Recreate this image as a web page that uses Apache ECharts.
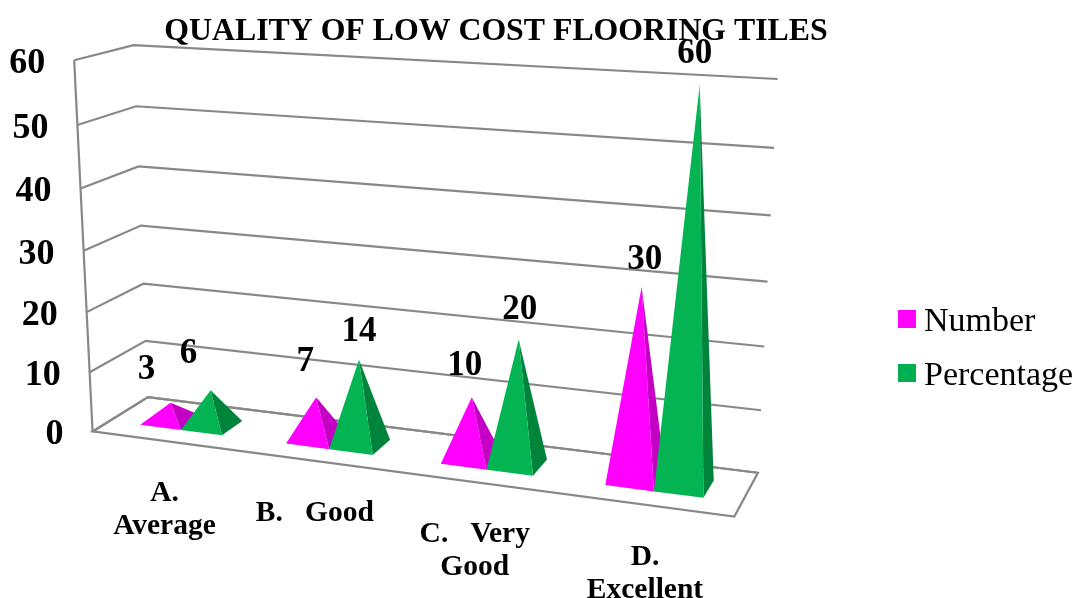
<!DOCTYPE html>
<html>
<head>
<meta charset="utf-8">
<style>
  html, body { margin: 0; padding: 0; background: #fff; }
  #main { width: 1076px; height: 598px; }
</style>
</head>
<body>
<div id="main"></div>
<script src="https://cdn.jsdelivr.net/npm/echarts@6/dist/echarts.min.js"></script>
<script>
const categories = ["A.\nAverage", "B.   Good", "C.   Very\nGood", "D.\nExcellent"];
const numberValues = [3, 7, 10, 30];
const percentValues = [6, 14, 20, 60];
const yTicks = [0, 10, 20, 30, 40, 50, 60];

// 标签微调 (dx, dy)
const numberLabelShift = [[-24, -33], [-11, -35], [-7, -31], [3, -27]];
const percentLabelShift = [[-22, -36], [0, -28], [1, -30], [-5, -31]];

const FONT = '"Liberation Serif", serif';
const FLAT_W = 1000;
const FLAT_H = 500;

// 透视标定: [u, d, t] -> 画面像素 (u 横向, d 进深, t 高度比例)
const anchors = [
  [0, 0, 0, 92.3, 431.7], [1, 0, 0, 734.3, 516.7], [1, 1, 0, 757.7, 472.7], [0, 1, 0, 147.3, 397.3],
  [0, 0, 1, 73.7, 60.7], [0, 1, 1, 133.3, 45], [1, 1, 1, 777.7, 79],
  [0, 0, 0.5, 84, 250], [0, 1, 0.5, 141.7, 225.7], [1, 1, 0.5, 767.3, 281.7],
  [0, 1, 1 / 6, 146, 340.7], [1, 1, 1 / 6, 761.3, 410], [0, 0, 1 / 6, 90, 372.3],
];

// 最小二乘解投影矩阵
const solveProjection = () => {
  const rows = [];
  const rhs = [];
  anchors.forEach(([u, d, t, px, py]) => {
    const x = px / 1000;
    const y = py / 1000;
    rows.push([1, u, d, t, 0, 0, 0, 0, -x * u, -x * d, -x * t]);
    rhs.push(x);
    rows.push([0, 0, 0, 0, 1, u, d, t, -y * u, -y * d, -y * t]);
    rhs.push(y);
  });
  const n = 11;
  const m = [];
  for (let i = 0; i < n; i++) {
    m.push(new Array(n + 1).fill(0));
    rows.forEach((r, k) => {
      for (let j = 0; j < n; j++) m[i][j] += r[i] * r[j];
      m[i][n] += r[i] * rhs[k];
    });
  }
  for (let i = 0; i < n; i++) {
    let best = i;
    for (let k = i + 1; k < n; k++) if (Math.abs(m[k][i]) > Math.abs(m[best][i])) best = k;
    [m[i], m[best]] = [m[best], m[i]];
    for (let k = 0; k < n; k++) {
      if (k === i) continue;
      const f = m[k][i] / m[i][i];
      for (let j = i; j <= n; j++) m[k][j] -= f * m[i][j];
    }
  }
  return m.map((r, i) => r[n] / r[i]);
};
const h = solveProjection();
const project = (u, d, t) => {
  const w = 1 + h[8] * u + h[9] * d + h[10] * t;
  return [
    (1000 * (h[0] + h[1] * u + h[2] * d + h[3] * t)) / w,
    (1000 * (h[4] + h[5] * u + h[6] * d + h[7] * t)) / w,
  ];
};

// 从隐藏坐标轴取比例
const uOf = (api, cat) => api.coord([cat, 0])[0] / FLAT_W;
const tOf = (api, val) => 1 - api.coord([0, val])[1] / FLAT_H;

const LINE = { stroke: "#888888", lineWidth: 2.2, fill: null };

const renderWall = (params, api) => {
  const t = tOf(api, api.value(1));
  return {
    type: "polyline",
    shape: { points: [project(0, 0, t), project(0, 1, t), project(1, 1, t)] },
    style: LINE,
  };
};

const renderTickLabel = (params, api) => {
  const t = tOf(api, api.value(1));
  const p = project(0, 0, t);
  return {
    type: "text",
    x: p[0] - 29,
    y: p[1] + 3.5,
    style: {
      text: String(api.value(1)),
      align: "right",
      verticalAlign: "middle",
      font: "bold 36px " + FONT,
      fill: "#000",
    },
  };
};

const renderFrame = () => ({
  type: "group",
  children: [
    { type: "polyline", shape: { points: [project(0, 0, 0), project(0, 0, 1)] }, style: LINE },
    {
      type: "polygon",
      shape: { points: [project(0, 0, 0), project(1, 0, 0), project(1, 1, 0), project(0, 1, 0)] },
      style: { stroke: "#888888", lineWidth: 2.2, fill: "#fff" },
    },
  ],
});

const renderCategory = (params, api) => {
  const p = project(uOf(api, api.value(0)), 0, 0);
  return {
    type: "text",
    x: p[0],
    y: p[1] + 36,
    style: {
      text: categories[params.dataIndex],
      align: "center",
      verticalAlign: "top",
      font: "bold 29.5px " + FONT,
      lineHeight: 33,
      fill: "#000",
    },
  };
};

const BAR_U = 0.071;
const DEPTH_FRONT = 0.3;
const DEPTH_BACK = 0.7;

const pyramidRender = (side, front, shade, shifts) => (params, api) => {
  const val = api.value(1);
  const c = uOf(api, api.value(0));
  const u0 = side < 0 ? c - BAR_U : c;
  const u1 = side < 0 ? c : c + BAR_U;
  const apex = project((u0 + u1) / 2, (DEPTH_FRONT + DEPTH_BACK) / 2, tOf(api, val));
  const fl = project(u0, DEPTH_FRONT, 0);
  const fr = project(u1, DEPTH_FRONT, 0);
  const br = project(u1, DEPTH_BACK, 0);
  const shift = shifts[params.dataIndex];
  return {
    type: "group",
    children: [
      { type: "polygon", shape: { points: [apex, fr, br] }, style: { fill: shade } },
      { type: "polygon", shape: { points: [apex, fl, fr] }, style: { fill: front } },
      {
        type: "text",
        x: apex[0] + shift[0],
        y: apex[1] + shift[1],
        z2: 10,
        style: {
          text: String(val),
          align: "center",
          verticalAlign: "middle",
          font: "bold 35px " + FONT,
          fill: "#000",
        },
      },
    ],
  };
};

const chart = echarts.init(document.getElementById("main"));
chart.setOption({
  animation: false,
  backgroundColor: "#fff",
  title: {
    text: "QUALITY OF LOW COST FLOORING TILES",
    left: 491,
    top: 11,
    textAlign: "center",
    textStyle: { fontFamily: FONT, fontWeight: "bold", fontSize: 31.8, color: "#000" },
  },
  legend: {
    data: ["Number", "Percentage"],
    orient: "vertical",
    left: 893,
    top: 300,
    itemWidth: 18,
    itemHeight: 18,
    itemGap: 20,
    icon: "rect",
    formatter: "{t|{name}}",
    textStyle: {
      rich: {
        t: { fontFamily: FONT, fontSize: 34, color: "#000", padding: [6, 0, 0, 3] },
      },
    },
  },
  grid: { left: 0, top: 0, width: FLAT_W, height: FLAT_H, show: false },
  xAxis: { type: "category", data: categories, show: false },
  yAxis: { type: "value", min: 0, max: 60, interval: 10, show: false },
  series: [
    {
      type: "custom",
      name: "frame",
      silent: true,
      clip: false,
      z: 1,
      renderItem: renderFrame,
      data: [[0, 0]],
    },
    {
      type: "custom",
      name: "grid lines",
      silent: true,
      clip: false,
      z: 2,
      renderItem: renderWall,
      data: yTicks.map((v) => [0, v]),
      encode: { x: 0, y: 1 },
    },
    {
      type: "custom",
      name: "ticks",
      silent: true,
      clip: false,
      z: 3,
      renderItem: renderTickLabel,
      data: yTicks.map((v) => [0, v]),
      encode: { x: 0, y: 1 },
    },
    {
      type: "custom",
      name: "category labels",
      silent: true,
      clip: false,
      z: 3,
      renderItem: renderCategory,
      data: categories.map((c, i) => [i, 0]),
      encode: { x: 0, y: 1 },
    },
    {
      type: "custom",
      name: "Number",
      clip: false,
      z: 4,
      itemStyle: { color: "#ff00ff" },
      renderItem: pyramidRender(-1, "#ff00ff", "#c400c4", numberLabelShift),
      data: numberValues.map((v, i) => [i, v]),
      encode: { x: 0, y: 1 },
    },
    {
      type: "custom",
      name: "Percentage",
      clip: false,
      z: 5,
      itemStyle: { color: "#00b050" },
      renderItem: pyramidRender(1, "#04b452", "#00843c", percentLabelShift),
      data: percentValues.map((v, i) => [i, v]),
      encode: { x: 0, y: 1 },
    },
  ],
});
</script>
</body>
</html>
